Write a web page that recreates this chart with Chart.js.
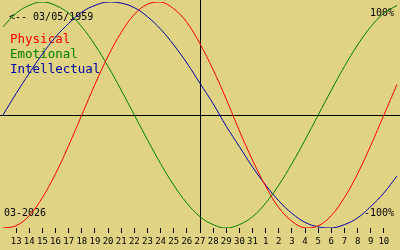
<!DOCTYPE html>
<html>
<head>
<meta charset="utf-8">
<script src="https://cdn.jsdelivr.net/npm/chart.js@4/dist/chart.umd.min.js"></script>
<style>
    html, body { margin: 0; padding: 0; background: #e1d384; }
    #wrap { width: 400px; height: 250px; }
</style>
</head>
<body>
<div id="wrap"><canvas id="bio"></canvas></div>
<script>
// days shown: 12 Mar .. 11 Apr (edge days carry the curve to the border, no label)
const days = ['12', '13', '14', '15', '16', '17', '18', '19', '20', '21', '22', '23', '24', '25', '26',
    '27', '28', '29', '30', '31', '1', '2', '3', '4', '5', '6', '7', '8', '9', '10', '11'];
const todayLabel = '27';

const physical = [-100, -98, -89, -73, -52, -27, 0, 27, 52, 73, 89, 98, 100, 94, 82, 63,
    40, 14, -14, -40, -63, -82, -94, -100, -98, -89, -73, -52, -27, 0, 27];
const emotional = [78, 90, 97, 100, 97, 90, 78, 62, 43, 22, 0, -22, -43, -62, -78, -90,
    -97, -100, -97, -90, -78, -62, -43, -22, 0, 22, 43, 62, 78, 90, 97];
const intellectual = [0, 19, 37, 54, 69, 81, 91, 97, 100, 99, 95, 87, 76, 62, 46, 28,
    10, -10, -28, -46, -62, -76, -87, -95, -99, -100, -97, -91, -81, -69, -54];

const birthText = '<-- 03/05/1959';
const monthText = '03-2026';
const topText = '100%';
const bottomText = '-100%';

const RED = '#ff0000';
const GREEN = '#008000';
const BLUE = '#0000a8';
const mono = '"DejaVu Sans Mono", "Liberation Mono", monospace';

const lastIdx = days.length - 1;

function makeSet(label, data, color) {
    return {
        label: label,
        data: data,
        borderColor: color,
        backgroundColor: color,
        borderWidth: 1,
        pointRadius: 0,
        fill: false,
        tension: 0.4
    };
}

const overlay = {
    id: 'overlay',
    beforeDatasetsDraw(chart) {
        const ctx = chart.ctx;
        const x = chart.scales.x;
        const y = chart.scales.y;
        const area = chart.chartArea;
        ctx.save();
        ctx.strokeStyle = '#000';
        ctx.lineWidth = 1;
        // zero line
        const y0 = Math.round(y.getPixelForValue(0)) + 0.5;
        ctx.beginPath();
        ctx.moveTo(0, y0);
        ctx.lineTo(chart.width, y0);
        ctx.stroke();
        // today line
        const xt = Math.round(x.getPixelForValue(days.indexOf(todayLabel))) + 0.5;
        ctx.beginPath();
        ctx.moveTo(xt, 0);
        ctx.lineTo(xt, area.bottom + 2);
        ctx.stroke();

        ctx.textBaseline = 'alphabetic';
        ctx.fillStyle = '#000';
        ctx.font = '10px ' + mono;
        ctx.textAlign = 'left';
        ctx.fillText(birthText, 9, 20);
        ctx.fillText(monthText, 4, 216);
        ctx.textAlign = 'right';
        ctx.fillText(topText, 394, 16);
        ctx.fillText(bottomText, 394, 216);

        ctx.textAlign = 'left';
        ctx.font = '12.5px ' + mono;
        const sets = chart.data.datasets;
        for (let i = 0; i < sets.length; i++) {
            ctx.fillStyle = sets[i].borderColor;
            ctx.fillText(sets[i].label, 10, 43 + i * 15);
        }
        ctx.restore();
    }
};

new Chart(document.getElementById('bio'), {
    type: 'line',
    data: {
        labels: days,
        datasets: [
            makeSet('Physical', physical, RED),
            makeSet('Emotional', emotional, GREEN),
            makeSet('Intellectual', intellectual, BLUE)
        ]
    },
    options: {
        responsive: true,
        maintainAspectRatio: false,
        animation: false,
        layout: { padding: { top: 2, left: 0, right: 0, bottom: 0 } },
        plugins: {
            legend: { display: false },
            tooltip: { enabled: false }
        },
        scales: {
            x: {
                type: 'category',
                offset: false,
                border: { display: false },
                grid: {
                    drawOnChartArea: false,
                    tickLength: 5,
                    tickColor: function(c) {
                        return (c.index === 0 || c.index === lastIdx) ? 'rgba(0,0,0,0)' : '#000';
                    }
                },
                ticks: {
                    autoSkip: false,
                    maxRotation: 0,
                    padding: 3,
                    color: '#000',
                    font: { family: mono, size: 9 },
                    callback: function(v, i) {
                        return (i === 0 || i === lastIdx) ? '' : days[i];
                    }
                },
                afterFit: function(scale) { scale.height = 22; }
            },
            y: {
                display: false,
                min: -100,
                max: 100
            }
        }
    },
    plugins: [overlay]
});
</script>
</body>
</html>
